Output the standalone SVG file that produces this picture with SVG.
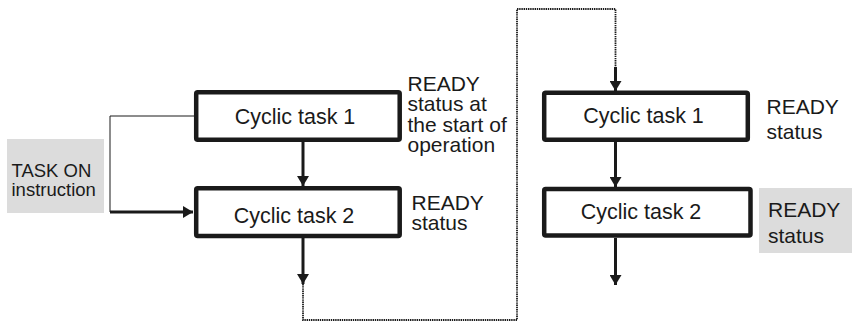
<svg xmlns="http://www.w3.org/2000/svg" width="852" height="322" viewBox="0 0 852 322">
<style>
.box{fill:#fff;stroke:#1a1a1a;stroke-width:4.5}
.t{font-family:"Liberation Sans",Arial,sans-serif;font-size:21.5px;fill:#1a1a1a}
.s{font-family:"Liberation Sans",Arial,sans-serif;font-size:21px;fill:#1a1a1a}
.g{font-family:"Liberation Sans",Arial,sans-serif;font-size:18.5px;fill:#1a1a1a}
.thick{fill:none;stroke:#1a1a1a;stroke-width:3}
.thin{fill:none;stroke:#1a1a1a;stroke-width:1}
.dot{fill:none;stroke:#1a1a1a;stroke-width:1.8;stroke-dasharray:1.4 0.8}
</style>
<defs>
<marker id="ah" viewBox="0 0 10 12" refX="10" refY="6" markerWidth="10" markerHeight="12" markerUnits="userSpaceOnUse" orient="auto">
<path d="M0,0 L10,6 L0,12 Z" fill="#1a1a1a"/>
</marker>
</defs>
<rect x="7" y="139" width="97" height="74" fill="#dcdcdc"/>
<text class="g" x="11.5" y="177">TASK ON</text>
<text class="g" x="11.5" y="196">instruction</text>
<rect x="759" y="188" width="93" height="65" fill="#dcdcdc"/>
<g id="connectors">
<polyline class="thin" points="194,116 110,116 110,212"/>
<line class="thick" x1="110" y1="212" x2="193" y2="212" marker-end="url(#ah)"/>
<line class="thick" x1="303" y1="142" x2="303" y2="186" marker-end="url(#ah)"/>
<line class="thick" x1="303" y1="238" x2="303" y2="284" marker-end="url(#ah)"/>
<polyline class="dot" points="303,284 303,320 517,320 517,9 615.5,9 615.5,68"/>
<line class="thick" x1="615.5" y1="67" x2="615.5" y2="91" marker-end="url(#ah)"/>
<line class="thick" x1="615.5" y1="142" x2="615.5" y2="187" marker-end="url(#ah)"/>
<line class="thick" x1="615.5" y1="238" x2="615.5" y2="285" marker-end="url(#ah)"/>
</g>
<g id="left-task1">
<rect class="box" x="196.2" y="92.2" width="203.5" height="47.6" rx="1.5"/>
<text class="t" x="295" y="124" text-anchor="middle">Cyclic task 1</text>
</g>
<g id="left-task2">
<rect class="box" x="196.2" y="188.2" width="203.5" height="47.8" rx="1.5"/>
<text class="t" x="294" y="222.5" text-anchor="middle">Cyclic task 2</text>
</g>
<g id="right-task1">
<rect class="box" x="544.2" y="92.7" width="203.6" height="47" rx="1.5"/>
<text class="t" x="643.5" y="123.3" text-anchor="middle">Cyclic task 1</text>
</g>
<g id="right-task2">
<rect class="box" x="544.2" y="188.9" width="206.3" height="46.6" rx="1.5"/>
<text class="t" x="641" y="219.3" text-anchor="middle">Cyclic task 2</text>
</g>
<text class="s" x="407.5" y="90.7">READY</text>
<text class="s" x="407.5" y="111">status at</text>
<text class="s" x="407.5" y="131.5">the start of</text>
<text class="s" x="407.5" y="151.5">operation</text>
<text class="s" x="411.5" y="210">READY</text>
<text class="s" x="411.5" y="230">status</text>
<text class="s" x="766.5" y="114.3">READY</text>
<text class="s" x="766.5" y="139">status</text>
<text class="s" x="768" y="217">READY</text>
<text class="s" x="768" y="242.5">status</text>
</svg>
